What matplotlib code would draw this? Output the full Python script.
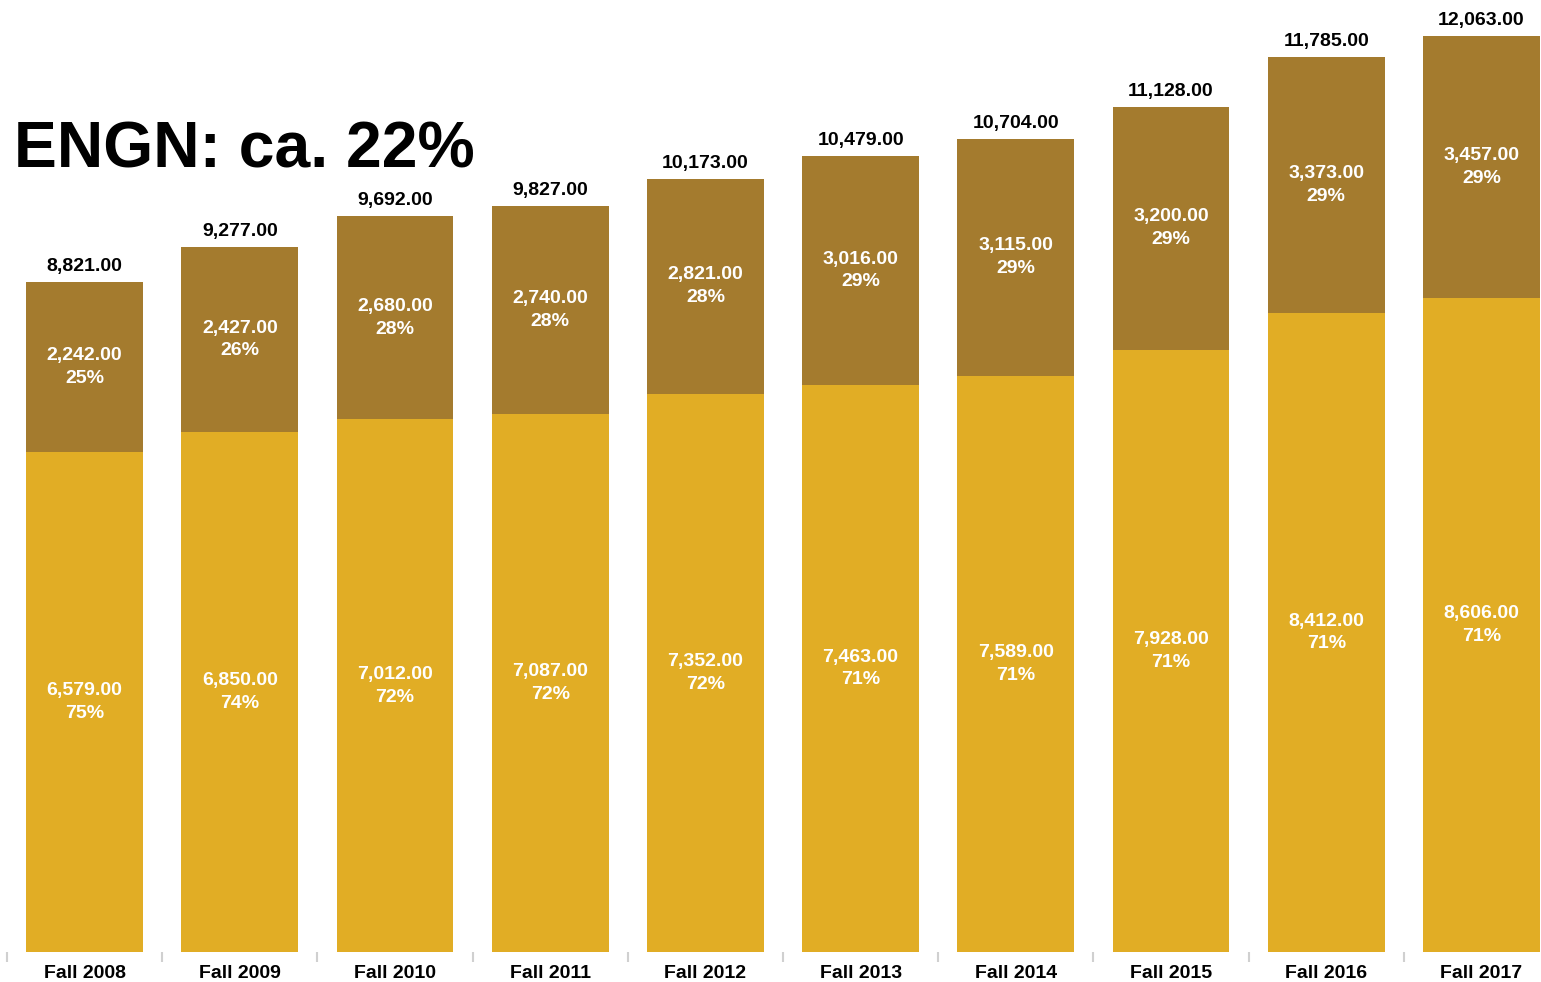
import matplotlib.pyplot as plt
import numpy as np

terms = ['Fall 2008', 'Fall 2009', 'Fall 2010', 'Fall 2011', 'Fall 2012',
         'Fall 2013', 'Fall 2014', 'Fall 2015', 'Fall 2016', 'Fall 2017']
lower = [6579, 6850, 7012, 7087, 7352, 7463, 7589, 7928, 8412, 8606]
upper = [2242, 2427, 2680, 2740, 2821, 3016, 3115, 3200, 3373, 3457]
lower_pct = [75, 74, 72, 72, 72, 71, 71, 71, 71, 71]
upper_pct = [25, 26, 28, 28, 28, 29, 29, 29, 29, 29]
totals = [8821, 9277, 9692, 9827, 10173, 10479, 10704, 11128, 11785, 12063]

plt.rcParams['font.family'] = ['Liberation Sans', 'DejaVu Sans']
plt.rcParams['font.weight'] = 'bold'

fig = plt.figure(figsize=(15.41, 9.82), dpi=100)
W, H = 1541, 982
ax = fig.add_axes([7 / W, 30 / H, 1552 / W, 952 / H])

x = np.arange(len(terms))
light = '#E1AD25'
dark = '#A47B2E'
ax.bar(x, lower, width=0.752, color=light)
ax.bar(x, upper, width=0.752, bottom=lower, color=dark)

for i in range(len(terms)):
    ax.text(x[i], lower[i] / 2, f'{lower[i]:,.2f}\n{lower_pct[i]}%',
            ha='center', va='center', color='white', fontsize=14,
            fontweight='bold', linespacing=1.45)
    ax.text(x[i], lower[i] + upper[i] / 2, f'{upper[i]:,.2f}\n{upper_pct[i]}%',
            ha='center', va='center', color='white', fontsize=14,
            fontweight='bold', linespacing=1.45)
    ax.annotate(f'{totals[i]:,.2f}', (x[i], totals[i]), xytext=(0, 5),
                textcoords='offset points', ha='center', va='bottom',
                fontsize=14, fontweight='bold', color='black')

ax.set_xlim(-0.5, len(terms) - 0.5)
ax.set_ylim(0, 12533)
ax.set_yticks([])
ax.set_xticks(x)
ax.set_xticklabels(terms, fontsize=14, fontweight='bold')
ax.set_xticks(np.arange(len(terms)) - 0.5, minor=True)
ax.tick_params(axis='x', which='major', length=0, pad=9)
ax.tick_params(axis='x', which='minor', length=7, width=1.5, color='#d0d0d0')
for s in ax.spines.values():
    s.set_visible(False)

fig.text(14 / W, 1 - 167 / H, 'ENGN: ca. 22%', fontsize=46.3, fontweight='bold',
         ha='left', va='baseline')

fig.savefig('out.png', dpi=100)
